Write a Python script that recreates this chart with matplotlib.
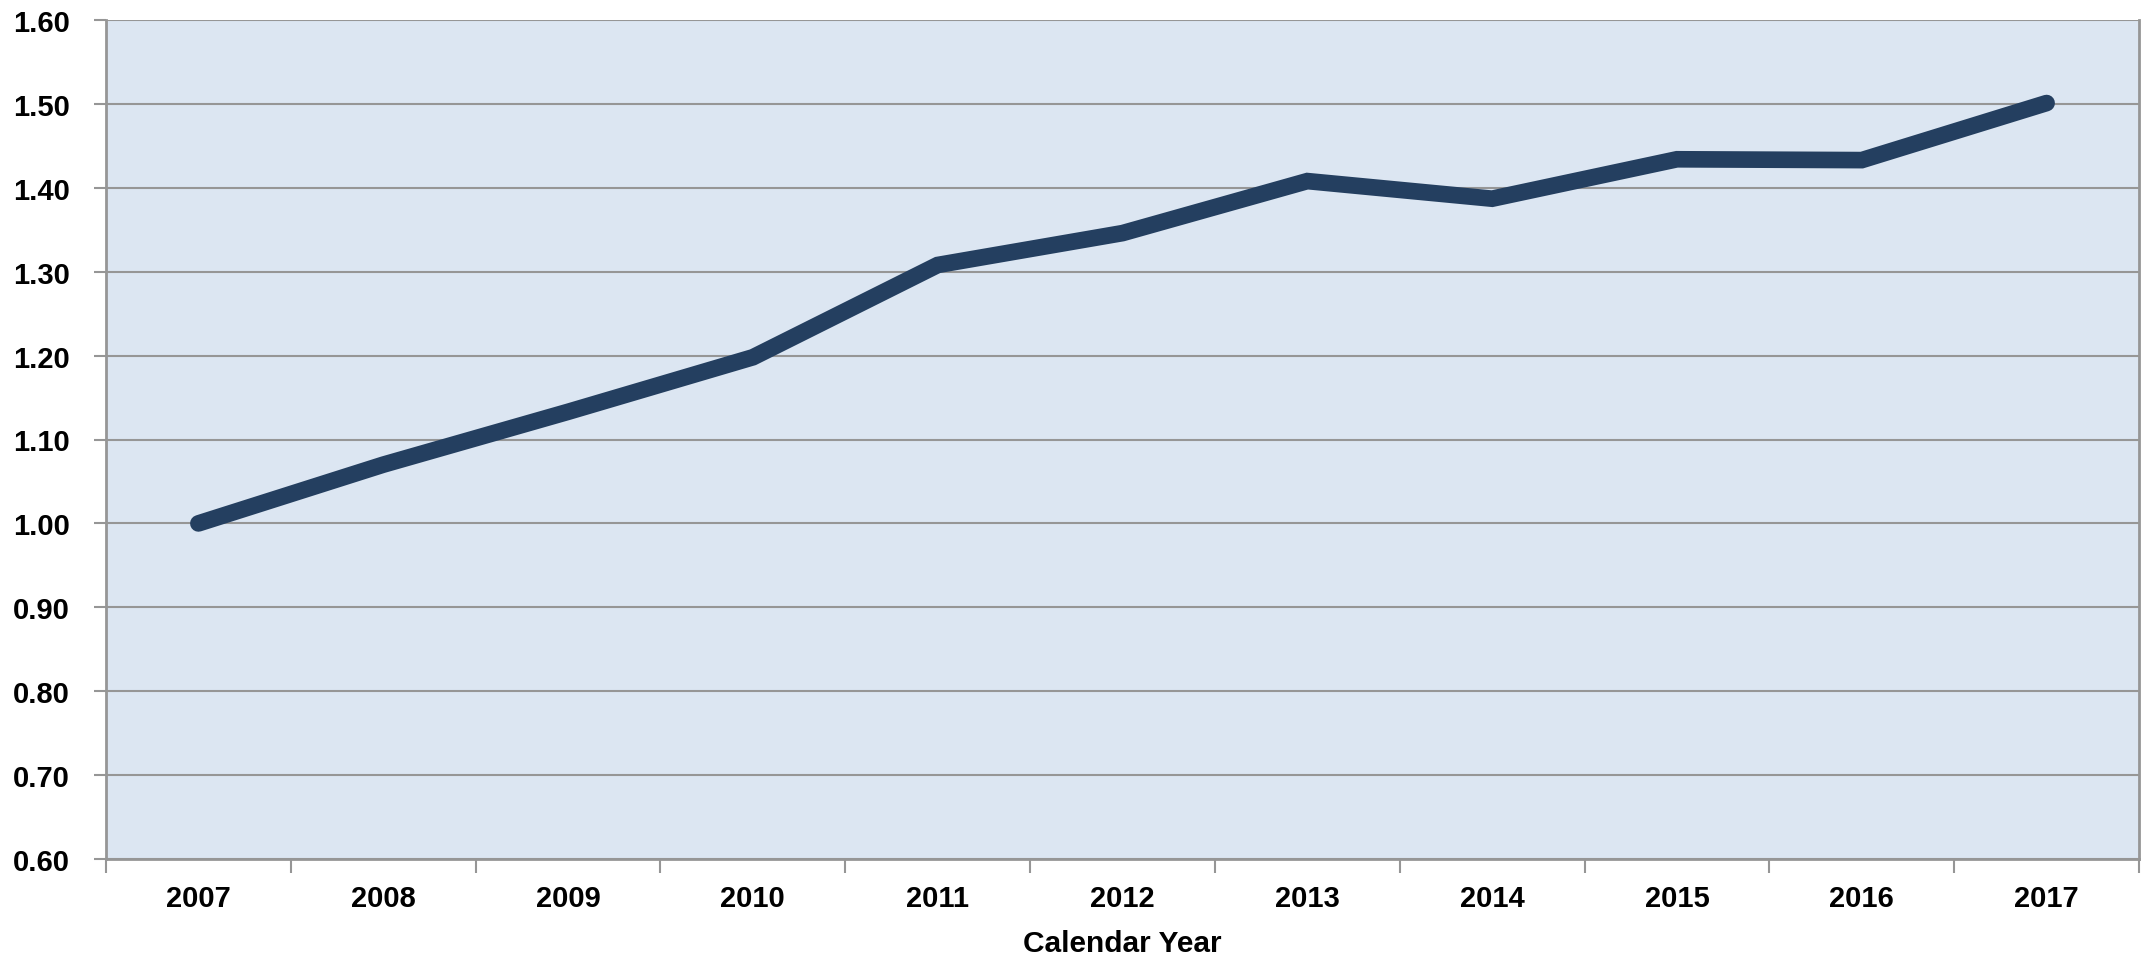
import matplotlib
matplotlib.use("Agg")
import matplotlib.pyplot as plt
from matplotlib.ticker import FixedLocator, NullFormatter, FixedFormatter

years = ["2007", "2008", "2009", "2010", "2011", "2012", "2013", "2014", "2015", "2016", "2017"]
values = [1.00, 1.070, 1.133, 1.198, 1.308, 1.346, 1.408, 1.387, 1.434, 1.433, 1.501]
y_ticks = [0.60, 0.70, 0.80, 0.90, 1.00, 1.10, 1.20, 1.30, 1.40, 1.50, 1.60]
x_title = "Calendar Year"

plt.rcParams['font.family'] = ['Liberation Sans', 'DejaVu Sans']

W, H = 2151, 962
fig = plt.figure(figsize=(W / 100, H / 100), dpi=100)
ax = fig.add_axes([106 / W, (H - 860) / H, (2139 - 106) / W, (860 - 21) / H])

ax.set_facecolor("#DCE6F2")
grid_c = "#969696"

x = list(range(len(years)))
ax.plot(x, values, color="#243F60", lw=12, solid_capstyle="round",
        solid_joinstyle="miter", zorder=3)

ax.set_ylim(0.60, 1.60)
ax.set_xlim(-0.5, len(years) - 0.5)

ax.set_yticks(y_ticks)
ax.set_yticklabels([f"{v:.2f}" for v in y_ticks], fontsize=21, fontweight="bold")
ax.yaxis.grid(True, color=grid_c, lw=1.5, zorder=1)
ax.set_axisbelow(True)
ax.tick_params(axis="y", length=9, width=1.5, color=grid_c, pad=17)

# category boundaries as major ticks, labels at centers via minor ticks
ax.xaxis.set_major_locator(FixedLocator([i - 0.5 for i in range(len(years) + 1)]))
ax.xaxis.set_major_formatter(NullFormatter())
ax.xaxis.set_minor_locator(FixedLocator(x))
ax.xaxis.set_minor_formatter(FixedFormatter(years))
ax.tick_params(axis="x", which="major", length=10, width=1.5, color=grid_c)
ax.tick_params(axis="x", which="minor", length=0, pad=18)
for lab in ax.get_xticklabels(minor=True):
    lab.set_fontsize(21)
    lab.set_fontweight("bold")

ax.set_xlabel(x_title, fontsize=21.5, fontweight="bold", labelpad=12)

for side in ["left", "bottom", "right"]:
    ax.spines[side].set_color(grid_c)
    ax.spines[side].set_linewidth(2)
ax.spines["top"].set_visible(False)

fig.savefig("out.png", dpi=100)
